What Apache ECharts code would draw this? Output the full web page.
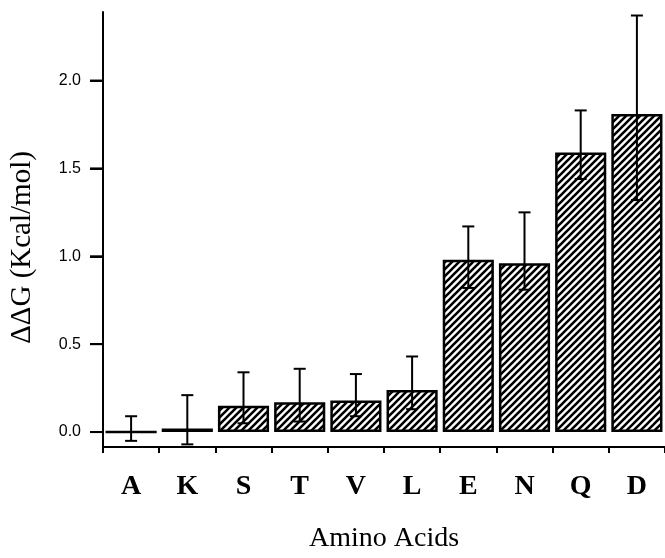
<!DOCTYPE html>
<html>
<head>
<meta charset="utf-8">
<script src="https://cdn.jsdelivr.net/npm/echarts@6/dist/echarts.min.js"></script>
<style>html,body{margin:0;padding:0;background:#fff}#c{width:665px;height:558px}</style>
</head>
<body>
<div id="c"></div>
<script>
const categories = ['A','K','S','T','V','L','E','N','Q','D'];
const values =     [0.00, 0.02, 0.15, 0.17, 0.18, 0.24, 0.98, 0.96, 1.59, 1.81];
const errLow =     [-0.05, -0.07, 0.05, 0.06, 0.09, 0.13, 0.82, 0.81, 1.44, 1.32];
const errHigh =    [0.09, 0.21, 0.34, 0.36, 0.33, 0.43, 1.17, 1.25, 1.83, 2.37];
const yTicks = [0, 0.5, 1.0, 1.5, 2.0];

// hatch pattern
const pc = document.createElement('canvas');
pc.width = 7; pc.height = 7;
const g = pc.getContext('2d');
g.fillStyle = '#fff'; g.fillRect(0,0,7,7);
g.strokeStyle = '#000'; g.lineWidth = 2.6;
g.beginPath();
g.moveTo(-1,8); g.lineTo(8,-1);
g.moveTo(-1,1); g.lineTo(1,-1);
g.moveTo(6,8); g.lineTo(8,6);
g.stroke();

const chart = echarts.init(document.getElementById('c'), null, {renderer:'canvas'});
chart.setOption({
  animation: false,
  backgroundColor: '#fff',
  grid: {left:102, right:0, top:12, bottom:108},
  xAxis: {
    type: 'category',
    data: categories,
    axisLine: {onZero:false, lineStyle:{color:'#000', width:2}},
    axisTick: {show:true, alignWithLabel:false, length:6, lineStyle:{color:'#000', width:2}},
    axisLabel: {color:'#000', fontFamily:'Liberation Serif', fontWeight:'bold', fontSize:28, margin:26},
    name: 'Amino Acids',
    nameLocation: 'middle',
    nameGap: 78,
    nameTextStyle: {color:'#000', fontFamily:'Liberation Serif', fontSize:28}
  },
  yAxis: {
    type: 'value',
    min: -0.085,
    max: 2.39,
    splitLine: {show:false},
    axisLine: {show:true, lineStyle:{color:'#000', width:2}},
    axisTick: {show:true, length:13, customValues: yTicks, lineStyle:{color:'#000', width:2}},
    axisLabel: {color:'#000', fontFamily:'Liberation Sans', fontSize:16, margin:22, customValues: yTicks,
      formatter: v => v.toFixed(1)},
    name: 'ΔΔG (Kcal/mol)',
    nameLocation: 'middle',
    nameGap: 66,
    nameTextStyle: {color:'#000', fontFamily:'Liberation Serif', fontSize:29, padding:[0,36,0,0]}
  },
  series: [
    {
      type: 'bar',
      data: values,
      barWidth: '91%',
      itemStyle: {color: {image: pc, repeat: 'repeat'}, borderColor:'#000', borderWidth:2.5}
    },
    {
      type: 'custom',
      data: categories.map((c,i) => [i, errLow[i], errHigh[i]]),
      z: 10,
      renderItem: function(params, api) {
        const x = api.value(0);
        const lo = api.coord([x, api.value(1)]);
        const hi = api.coord([x, api.value(2)]);
        const w = 6;
        const st = {stroke:'#000', lineWidth:2};
        return {type:'group', children:[
          {type:'line', shape:{x1:hi[0], y1:hi[1], x2:lo[0], y2:lo[1]}, style:st},
          {type:'line', shape:{x1:hi[0]-w, y1:hi[1], x2:hi[0]+w, y2:hi[1]}, style:st},
          {type:'line', shape:{x1:lo[0]-w, y1:lo[1], x2:lo[0]+w, y2:lo[1]}, style:st}
        ]};
      }
    }
  ]
});
// y-axis ticks, positioned through the axis scale
const gridLeft = chart.convertToPixel({gridIndex:0}, [-0.5, 0])[0];
const axisX = chart.getModel().getComponent('grid', 0).coordinateSystem.getRect().x;
chart.setOption({
  graphic: yTicks.map(v => {
    const y = chart.convertToPixel({yAxisIndex:0}, v);
    return {type:'line', z:100, silent:true,
      shape:{x1:axisX-13, y1:y, x2:axisX, y2:y},
      style:{stroke:'#000', lineWidth:2}};
  })
});
</script>
</body>
</html>
